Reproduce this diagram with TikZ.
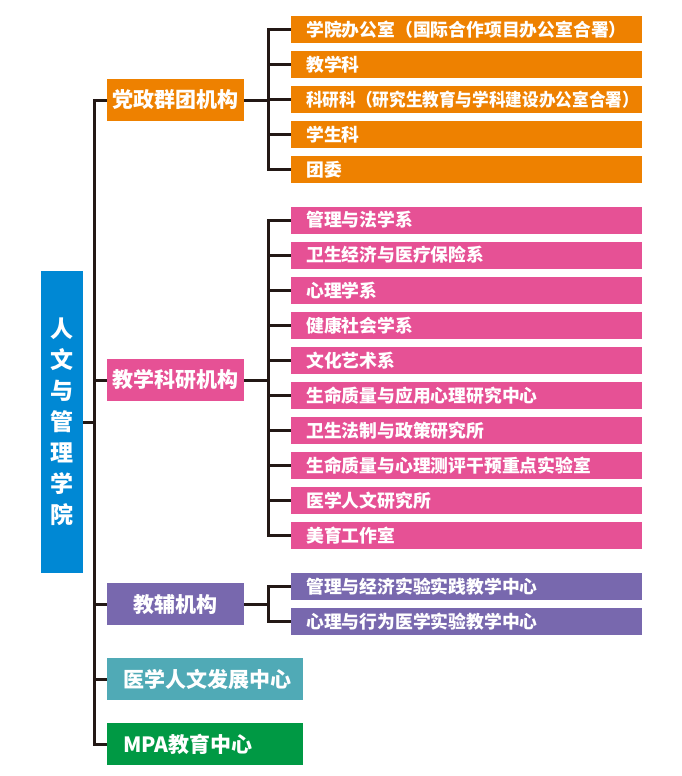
\documentclass[tikz,border=0pt]{standalone}
\usepackage{fontspec}
\setmainfont{Noto Sans CJK SC}
\usetikzlibrary{backgrounds}
\definecolor{orangeC}{HTML}{EE8100}
\definecolor{pinkC}{HTML}{E65195}
\definecolor{purpleC}{HTML}{7868AE}
\definecolor{tealC}{HTML}{50AAB6}
\definecolor{greenC}{HTML}{009944}
\definecolor{blueC}{HTML}{0088D4}
\definecolor{lineC}{HTML}{231815}
\begin{document}
\begin{tikzpicture}[x=1pt,y=-1pt,
  conn/.style={draw=lineC, line width=3pt, line cap=rect},
  lvtwo/.style={fill=#1, text=white, font=\bfseries\fontsize{17.8}{19}\selectfont,
    anchor=west, minimum height=27pt, inner xsep=15pt, inner ysep=0pt,
    text width=321pt, align=left},
  lvone/.style={fill=#1, text=white, font=\bfseries\fontsize{21}{24}\selectfont,
    anchor=west, minimum height=42pt, minimum width=137pt, inner sep=0pt},
  lvonewide/.style={fill=#1, text=white, font=\bfseries\fontsize{21}{24}\selectfont,
    anchor=west, minimum height=42pt, inner xsep=16pt, inner ysep=0pt,
    text width=164pt},
]
\useasboundingbox (0,0) rectangle (682,776);

% root
\node[fill=blueC, text=white, anchor=north west, minimum width=42pt, minimum height=302pt,
  inner sep=0pt, align=center, font=\bfseries\fontsize{23}{31}\selectfont] (root) at (41,271)
  {人\\文\\与\\管\\理\\学\\院};

% level one
\node[lvone=orangeC] (a) at (107,100) {党政群团机构};
\node[lvone=pinkC] (b) at (107,380) {教学科研机构};
\node[lvone=purpleC] (c) at (107,604) {教辅机构};
\node[lvonewide=tealC, align=center] (d) at (107,679) {医学人文发展中心};
\node[lvonewide=greenC, align=left] (e) at (107,744) {MPA教育中心};

% level two: orange
\node[lvtwo=orangeC] (a1) at (291,29.5) {学院办公室（国际合作项目办公室合署）};
\node[lvtwo=orangeC] (a2) at (291,64.6) {教学科};
\node[lvtwo=orangeC] (a3) at (291,99.7) {\scalebox{0.935}[1]{科研科（研究生教育与学科建设办公室合署）}};
\node[lvtwo=orangeC] (a4) at (291,134.8) {学生科};
\node[lvtwo=orangeC] (a5) at (291,169.9) {团委};

% level two: pink
\foreach \t [count=\i] in {管理与法学系,卫生经济与医疗保险系,心理学系,健康社会学系,文化艺术系,生命质量与应用心理研究中心,卫生法制与政策研究所,生命质量与心理测评干预重点实验室,医学人文研究所,美育工作室}{
  \node[lvtwo=pinkC] (b\i) at (291,{220+35.1*(\i-1)}) {\t};
}

% level two: purple
\node[lvtwo=purpleC] (c1) at (291,586.5) {管理与经济实验实践教学中心};
\node[lvtwo=purpleC] (c2) at (291,621.5) {心理与行为医学实验教学中心};

\coordinate (t) at (94,0);
\coordinate (s) at (268,0);

\begin{pgfonlayer}{background}
  \draw[conn] (root.east) -- (root.east -| t);
  \draw[conn] (a.west -| t) -- (e.west -| t);
  \foreach \n in {a,b,c,d,e}{
    \draw[conn] (\n.west -| t) -- (\n.west);
  }
  % orange branch
  \draw[conn] (a.east) -- (a.east -| s);
  \draw[conn] (a1.west -| s) -- (a5.west -| s);
  \foreach \n in {a1,a2,a3,a4,a5}{
    \draw[conn] (\n.west -| s) -- (\n.west);
  }
  % pink branch
  \draw[conn] (b.east) -- (b.east -| s);
  \draw[conn] (b1.west -| s) -- (b10.west -| s);
  \foreach \i in {1,...,10}{
    \draw[conn] (b\i.west -| s) -- (b\i.west);
  }
  % purple branch
  \draw[conn] (c.east) -- (c.east -| s);
  \draw[conn] (c1.west -| s) -- (c2.west -| s);
  \foreach \n in {c1,c2}{
    \draw[conn] (\n.west -| s) -- (\n.west);
  }
\end{pgfonlayer}
\end{tikzpicture}
\end{document}
